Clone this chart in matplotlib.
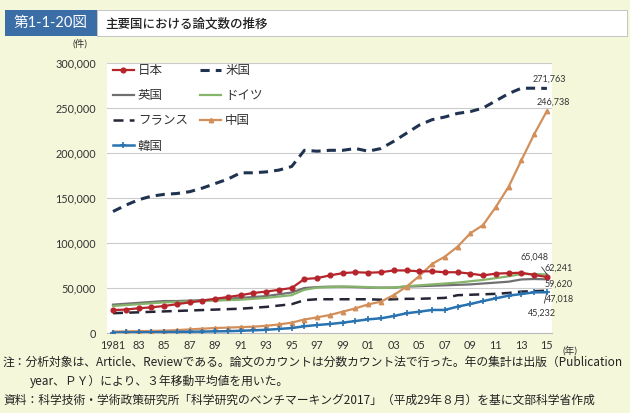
import numpy as np
import matplotlib
matplotlib.use('Agg')
import matplotlib.pyplot as plt
from matplotlib.patches import Rectangle

plt.rcParams['font.family'] = ['Lato', 'Noto Sans CJK JP', 'DejaVu Sans']

# data (3-year moving average, fractional count)
years = list(range(1981, 2016))
japan = [25.5, 26, 27.5, 28.5, 30, 32, 34, 36, 38, 40, 42, 44.5, 46, 48, 50,
         60, 61, 64, 66.5, 67.5, 67, 67.5, 69.5, 69.5, 68.5, 68.5, 67.5, 67.5,
         66, 64, 66, 66.5, 67, 64.5, 62.241]
usa = [135, 142, 148, 152, 154, 155, 157, 161, 166, 171, 178, 178, 179, 181, 185,
       203, 202, 203, 203, 205, 202, 205, 213, 222, 231, 237, 240, 244, 246, 250,
       258, 266, 272, 272, 271.763]
uk = [31.5, 32.5, 33.5, 34.5, 35.5, 35.5, 36, 36.5, 37, 38, 39, 40, 41, 43, 45,
      50, 51, 51.5, 51.5, 51, 50.5, 50.5, 50.5, 51.5, 52, 52.5, 53, 53.5, 54, 55,
      56, 57, 59.5, 60, 59.62]
germany = [30, 31, 32, 33, 34, 34.5, 35, 35.5, 36, 36.5, 37, 38, 39, 40.5, 42,
           48, 50.5, 51, 51.5, 51.5, 51, 50, 50.5, 52, 53, 54, 55, 56, 57.5, 59,
           61, 63, 65.5, 65.5, 65.048]
france = [22, 22.5, 23, 23.5, 24, 24.5, 25, 25.5, 26, 26.5, 27, 28, 29, 30.5, 32,
          36.5, 37.5, 37.5, 37.5, 37.5, 37.5, 37, 37.5, 38, 38, 38.5, 39, 42, 42.5,
          43, 43.5, 44.5, 46, 46.5, 47.018]
china = [1.5, 1.8, 2, 2.3, 2.6, 3.2, 4, 4.8, 5.5, 6, 6.5, 7, 8, 9.5, 11.5,
         15, 17.4, 20, 23.7, 27.4, 31.8, 34.8, 42.2, 51.5, 63.3, 76.7, 84.8, 95.9,
         110.8, 120, 140, 162.5, 192, 220.7, 246.738]
korea = [0.5, 0.6, 0.7, 0.8, 1, 1.2, 1.4, 1.6, 1.8, 2, 2.5, 3, 3.5, 4.5, 5.5,
         7.5, 8.9, 10, 11.5, 13.3, 15.2, 16.3, 18.9, 21.9, 23.7, 25.6, 25.6, 29.3,
         32.2, 35.5, 38.5, 41.5, 43.3, 45.2, 45.232]

xtick_years = list(range(1981, 2016, 2))
xtick_labels = ['1981'] + ['%02d' % (y % 100) for y in xtick_years[1:]]

bg = '#F5F7DA'
fig = plt.figure(figsize=(6.3, 4.13), dpi=100, facecolor=bg)

# header bar
fig.patches.append(Rectangle((5/630, 1-36/413), 92/630, 26/413, transform=fig.transFigure,
                             facecolor='#3B6DA6', edgecolor='none'))
fig.patches.append(Rectangle((97/630, 1-36/413), 530/630, 26/413, transform=fig.transFigure,
                             facecolor='white', edgecolor='#BBBBBB', lw=0.6))
fig.text(51/630, 1-23/413, '第1-1-20図', color='white', fontsize=10.5,
         ha='center', va='center')
fig.text(105/630, 1-23/413, '主要国における論文数の推移', color='#222222', fontsize=9,
         ha='left', va='center', weight='medium')

ax = fig.add_axes([107/630, 80/413, 445/630, 270/413])
ax.set_facecolor('white')

def k(v):
    return np.array(v) * 1000

x = np.array(years)
l_jp, = ax.plot(x, k(japan), color='#B5252B', lw=1.6, marker='o', ms=3.4, label='日本', zorder=5)
l_us, = ax.plot(x, k(usa), color='#1F3350', lw=2.2, ls=(0, (3, 2)), label='米国', zorder=4)
l_uk, = ax.plot(x, k(uk), color='#707070', lw=1.6, label='英国', zorder=3)
l_de, = ax.plot(x, k(germany), color='#86B46A', lw=1.6, label='ドイツ', zorder=3)
l_fr, = ax.plot(x, k(france), color='#252536', lw=1.8, ls=(0, (4, 2.5)), label='フランス', zorder=3)
l_cn, = ax.plot(x, k(china), color='#D38F5A', lw=1.6, marker='^', ms=3.2, label='中国', zorder=4)
l_kr, = ax.plot(x, k(korea), color='#2872B0', lw=1.8, marker='+', ms=4, mew=1.2, label='韓国', zorder=4)

ax.set_xlim(1980.53, 2015.4)
ax.set_ylim(0, 300000)
ax.set_yticks(np.arange(0, 300001, 50000))
ax.set_yticklabels(['{:,}'.format(v) for v in range(0, 300001, 50000)])
ax.set_xticks(xtick_years)
ax.set_xticklabels(xtick_labels)
ax.tick_params(length=0, labelsize=7.8, colors='#333333')
ax.tick_params(axis='y', pad=8)
ax.tick_params(axis='x', pad=5)
ax.grid(axis='y', color='#CCCCCC', lw=0.8)
ax.set_axisbelow(True)
for s in ['top', 'right', 'left']:
    ax.spines[s].set_visible(False)
ax.spines['bottom'].set_color('#BBBBBB')

ax.text(-0.06, 1.06, '(件)', transform=ax.transAxes, fontsize=7, ha='center', color='#333333')
ax.text(1.04, -0.075, '(年)', transform=ax.transAxes, fontsize=7, ha='center', color='#333333')

# end-value labels
def lab(series, txt, dx, dy, line=False):
    ax.annotate(txt, xy=(x[-1], series[-1] * 1000), xytext=(dx, dy),
                textcoords='offset pixels', fontsize=6.5, ha='center', va='center',
                color='#333333',
                arrowprops=dict(arrowstyle='-', lw=0.6, color='#333333', shrinkA=2, shrinkB=0) if line else None)

lab(usa, '271,763', 2, 9)
lab(china, '246,738', 6, 9)
lab(germany, '65,048', -12, 17, True)
lab(japan, '62,241', 12, 9, True)
lab(uk, '59,620', 12, -5)
lab(france, '47,018', 13, -9)
lab(korea, '45,232', -5, -21, True)

leg = ax.legend(handles=[l_jp, l_uk, l_fr, l_kr, l_us, l_de, l_cn], ncol=2,
                loc='upper left', bbox_to_anchor=(0.01, 1.0), frameon=False,
                fontsize=9, handlelength=1.7, handletextpad=0.3, columnspacing=1.0,
                labelspacing=1.05, borderaxespad=0, borderpad=0.1)
for t in leg.get_texts():
    t.set_color('#333333')

notes = ['注：分析対象は、Article、Reviewである。論文のカウントは分数カウント法で行った。年の集計は出版（Publication',
         'year、ＰＹ）により、３年移動平均値を用いた。',
         '資料：科学技術・学術政策研究所「科学研究のベンチマーキング2017」（平成29年８月）を基に文部科学省作成']
fig.text(3/630, 1-362/413, notes[0], fontsize=8.5, va='center', color='#222222',
         family=['Noto Sans CJK JP'])
fig.text(30/630, 1-381/413, notes[1], fontsize=8.5, va='center', color='#222222',
         family=['Noto Sans CJK JP'])
fig.text(3/630, 1-400/413, notes[2], fontsize=8.5, va='center', color='#222222',
         family=['Noto Sans CJK JP'])

fig.savefig('out.png', dpi=100, facecolor=bg)
